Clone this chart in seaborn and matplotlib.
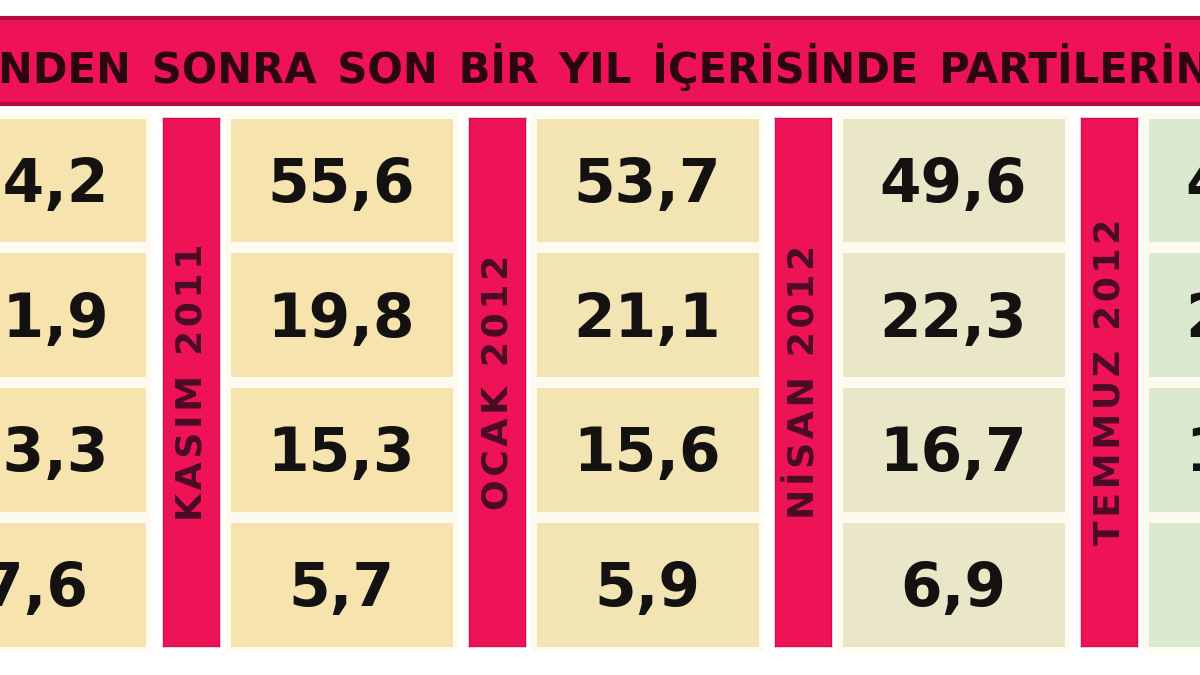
import numpy as np
import pandas as pd
import matplotlib
matplotlib.use("Agg")
import matplotlib.pyplot as plt
import seaborn as sns
from matplotlib.colors import ListedColormap

# poll results per survey (rows: parties, top to bottom)
parties = ["AKP", "CHP", "MHP", "BDP"]
v_prev = [54.2, 21.9, 13.3, 7.6]      # column cut off at the left edge
v_kasim = [55.6, 19.8, 15.3, 5.7]
v_ocak = [53.7, 21.1, 15.6, 5.9]
v_nisan = [49.6, 22.3, 16.7, 6.9]
v_temmuz = [48.3, 23.1, 15.9, 6.4]    # column cut off at the right edge

columns = [v_prev, v_kasim, v_ocak, v_nisan, v_temmuz]
bar_labels = [None, "KASIM 2011", "OCAK 2012", "NİSAN 2012", "TEMMUZ 2012"]
cell_colors = ["#f6e3ad", "#f6e3ad", "#f3e4b4", "#eae6c8", "#dce9d1"]

title_words = ["NDEN", "SONRA", "SON", "BİR", "YIL", "İÇERİSİNDE", "PARTİLERİN", "OY", "ORANLARI"]

sns.set_theme(style="white")
plt.rcParams["font.family"] = ["DejaVu Sans"]

W, H = 1200, 675
fig = plt.figure(figsize=(12, 6.75), dpi=100)
fig.patch.set_facecolor("white")


def px_axes(x0, y0, x1, y1):
    return fig.add_axes([x0 / W, 1 - y1 / H, (x1 - x0) / W, (y1 - y0) / H])


def spaced(s, sep="\u200a"):
    # a little letter tracking like the printed graphic
    return sep.join(s)


pink = "#ee1257"
gap_color = "#fdfbf0"
gap_px = 11
grid_top, grid_bot = 118, 646
pitch, cell_w, bar_w = 306, 222, 56

# header band
hax = px_axes(-10, 18, W + 10, 104)
hax.set_facecolor(pink)
hax.set_xticks([])
hax.set_yticks([])
for s in hax.spines.values():
    s.set_color("#b5093f")
    s.set_linewidth(3)
hax.text(8 / (W + 20), 0.42, "\u2002".join(title_words), transform=hax.transAxes,
         ha="left", va="center", fontsize=30, fontweight="bold", color="#2b0512")

for k, vals in enumerate(columns):
    x0 = 230 + pitch * (k - 1)
    ax = px_axes(x0 - gap_px / 2, grid_top - gap_px / 2,
                 x0 + cell_w + gap_px / 2, grid_bot + gap_px / 2)
    df = pd.DataFrame({"oy": vals}, index=parties)
    labels = np.array([[f"{v:.1f}".replace(".", ",")] for v in vals])
    sns.heatmap(df, ax=ax, cmap=ListedColormap([cell_colors[k]]), cbar=False,
                annot=labels, fmt="", linewidths=gap_px * 72 / 100,
                linecolor=gap_color, xticklabels=False, yticklabels=False,
                annot_kws={"fontsize": 43, "fontweight": "bold", "color": "#141210"})
    for t in ax.texts:
        tx, ty = t.get_position()
        t.set_position((tx, ty + 0.04))

    if bar_labels[k]:
        bx0 = 163 + pitch * (k - 1)
        bax = px_axes(bx0, grid_top, bx0 + bar_w, grid_bot)
        bax.set_facecolor(pink)
        bax.set_xticks([])
        bax.set_yticks([])
        for s in bax.spines.values():
            s.set_color("#d80c4c")
            s.set_linewidth(1)
        bax.text(0.5, 0.5, spaced(bar_labels[k]), transform=bax.transAxes, rotation=90,
                 ha="center", va="center", fontsize=26, fontweight="bold",
                 color="#4a0a25")

fig.savefig("out.png", dpi=100, facecolor=fig.get_facecolor())
